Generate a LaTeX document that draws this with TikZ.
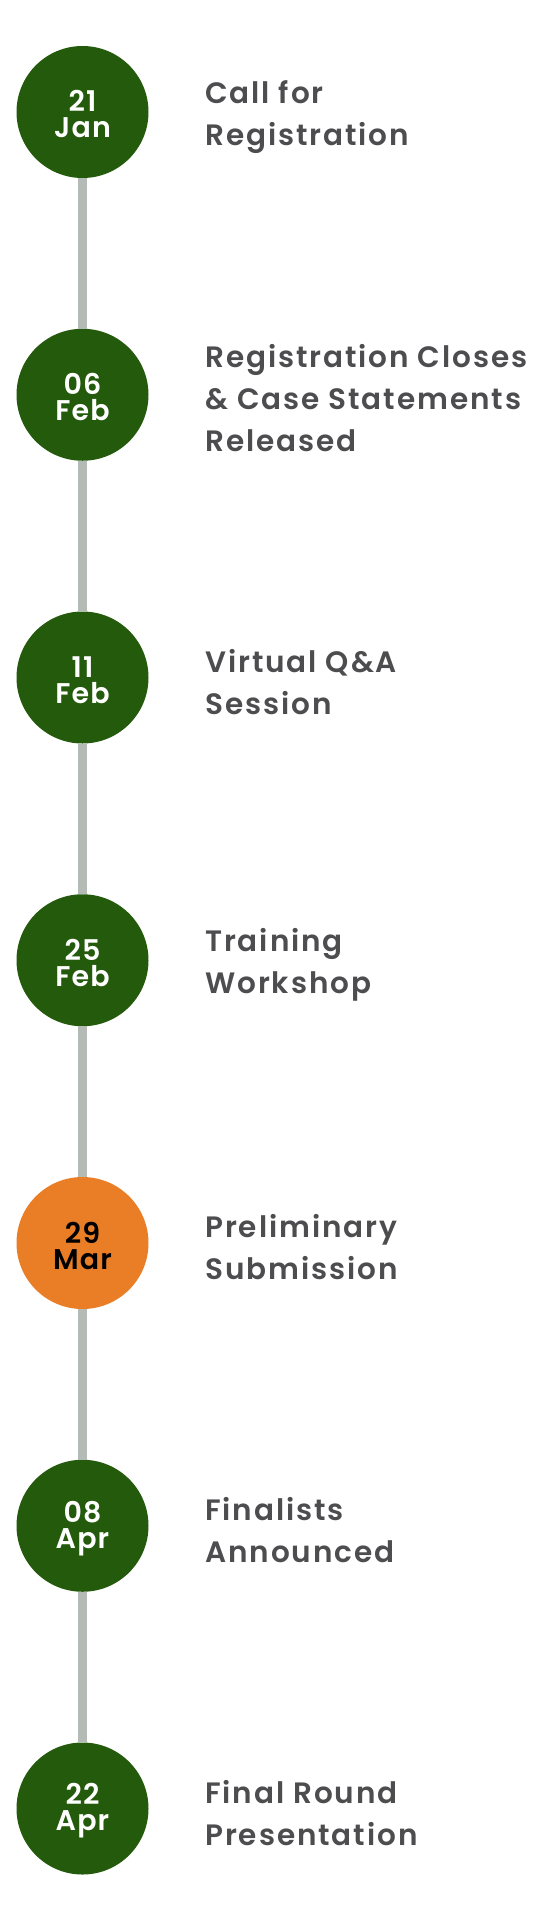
\documentclass[tikz,border=0pt]{standalone}
\usepackage{fontspec}
\newfontfamily\labfont{Poppins}[UprightFont=* SemiBold, LetterSpace=6.5]
\newfontfamily\datefont{Poppins}[UprightFont=* SemiBold, LetterSpace=4]
\definecolor{dgreen}{HTML}{235A0B}
\definecolor{orng}{HTML}{E97E27}
\definecolor{ltxt}{HTML}{4D4D4F}
\definecolor{tline}{HTML}{B4BBB6}
\tikzset{
  dot/.style={circle, minimum size=132pt, inner sep=0pt, fill=dgreen},
  hot/.style={fill=orng},
  dtxt/.style={inner sep=0pt, align=center, text=white, font=\datefont\fontsize{28.5}{26}\selectfont},
  dhot/.style={text=black},
  lab/.style={anchor=west, inner sep=0pt, align=left, text=ltxt, font=\labfont\fontsize{29.5}{42}\selectfont},
  tl/.style={draw=tline, line width=9pt}
}
\begin{document}
\begin{tikzpicture}[x=1pt,y=-1pt]
\useasboundingbox (0,0) rectangle (550,1920);
\fill[white] (0,0) rectangle (550,1920);
\node[dot] (c1) at (82.5,112) {};
\node[dot] (c2) at (82.5,394.75) {};
\node[dot] (c3) at (82.5,677.5) {};
\node[dot] (c4) at (82.5,960.25) {};
\node[dot,hot] (c5) at (82.5,1243) {};
\node[dot] (c6) at (82.5,1525.75) {};
\node[dot] (c7) at (82.5,1808.5) {};
\foreach \a/\b in {c1/c2,c2/c3,c3/c4,c4/c5,c5/c6,c6/c7}{\draw[tl] (\a.south) -- (\b.north);}
\node[dtxt] (d1) at ([yshift=-2.5pt]c1.center) {21\\Jan};
\node[dtxt] (d2) at ([yshift=-2.5pt]c2.center) {06\\Feb};
\node[dtxt] (d3) at ([yshift=-2.5pt]c3.center) {11\\Feb};
\node[dtxt] (d4) at ([yshift=-2.5pt]c4.center) {25\\Feb};
\node[dtxt,dhot] (d5) at ([yshift=-2.5pt]c5.center) {29\\Mar};
\node[dtxt] (d6) at ([yshift=-2.5pt]c6.center) {08\\Apr};
\node[dtxt] (d7) at ([yshift=-2.5pt]c7.center) {22\\Apr};
\node[lab] (t1) at (205,117) {Call for\\Registration};
\node[lab] (t2) at (205,398.5) {Registration Closes\\\& Case Statements\\Released};
\node[lab] (t3) at (205,682.5) {Virtual Q\&A\\Session};
\node[lab] (t4) at (205,965.25) {Training\\Workshop};
\node[lab] (t5) at (205,1247) {Preliminary\\Submission};
\node[lab] (t6) at (205,1530.25) {Finalists\\Announced};
\node[lab] (t7) at (205,1813) {Final Round\\Presentation};
\end{tikzpicture}
\end{document}
